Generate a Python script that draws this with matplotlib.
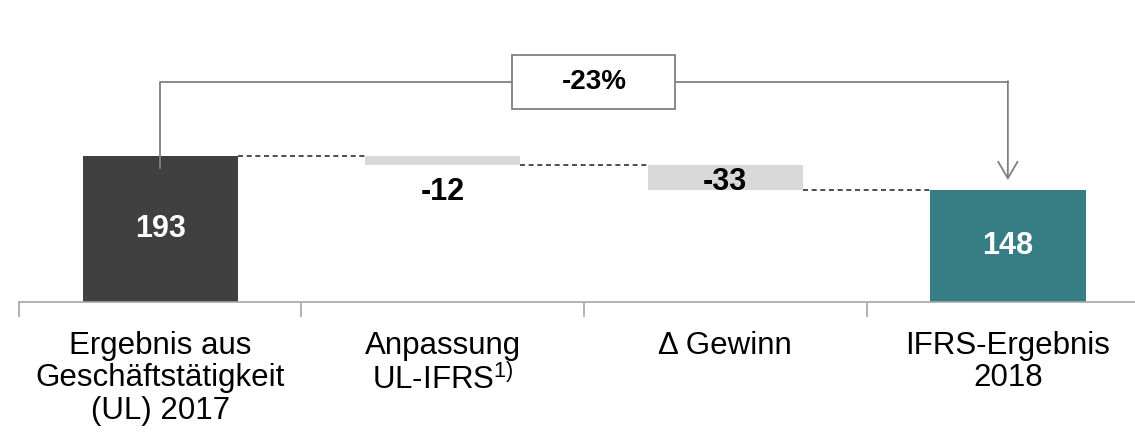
import matplotlib
matplotlib.use("Agg")
import matplotlib.pyplot as plt
from matplotlib.patches import Rectangle

plt.rcParams['font.family'] = ['Liberation Sans', 'DejaVu Sans']
plt.rcParams['mathtext.fontset'] = 'custom'
plt.rcParams['mathtext.rm'] = 'Liberation Sans'

# Waterfall data
categories = ["Ergebnis aus\nGeschäftstätigkeit\n(UL) 2017",
              "Anpassung\nUL-IFRS$^{\\mathrm{1)}}$",
              "Δ Gewinn",
              "IFRS-Ergebnis\n2018"]
values = [193, -12, -33, 148]
kinds = ["total", "delta", "delta", "total"]
value_labels = ["193", "-12", "-33", "148"]
change_label = "-23%"

colors = {"start": "#404040", "delta": "#D9D9D9", "end": "#367E83"}
grey = "#808080"

fig = plt.figure(figsize=(11.35, 4.37), dpi=100)
ax = fig.add_axes([0.0167, 0.309, 0.9833, 0.691])
ax.set_xlim(-0.5, 3.45)
ax.set_ylim(0, 399)

width = 0.55
running = 0
tops = []
bottoms = []
for i, (v, k) in enumerate(zip(values, kinds)):
    if k == "total":
        bottom, top = 0, v
        running = v
        col = colors["start"] if i == 0 else colors["end"]
    else:
        top = running
        running = running + v
        bottom = running
        col = colors["delta"]
    ax.bar(i, top - bottom, bottom=bottom, width=width, color=col, zorder=2)
    tops.append(top)
    bottoms.append(bottom)

# dashed connectors between bars
levels = [values[0], values[0] + values[1], values[0] + values[1] + values[2]]
for i, lv in enumerate(levels):
    ax.plot([i + width / 2, i + 1 - width / 2], [lv, lv], ls=(0, (3, 2.2)),
            color="#303030", lw=1.2, zorder=1)

# value labels
ax.text(0, values[0] / 2, value_labels[0], ha="center", va="center",
        color="white", fontsize=22, fontweight="bold")
ax.text(3, values[3] / 2, value_labels[3], ha="center", va="center",
        color="white", fontsize=22, fontweight="bold")
ax.text(1, bottoms[1] - 36, value_labels[1], ha="center", va="center",
        color="black", fontsize=22, fontweight="bold")
ax.text(2, bottoms[2] + 10, value_labels[2], ha="center", va="center",
        color="black", fontsize=22, fontweight="bold", zorder=3)

# bracket with arrow
yb = 291
ax.plot([0, 0, 3], [177, yb, yb], color=grey, lw=1.3, zorder=3)
ax.annotate("", xy=(3, tops[3] + 13), xytext=(3, yb + 0.8),
            arrowprops=dict(arrowstyle="->,head_length=1.2,head_width=0.7",
                            color=grey, lw=1.3, shrinkA=0, shrinkB=0))
bx, bw, bh = 1.535, 0.577, 71
ax.add_patch(Rectangle((bx - bw / 2, yb - bh / 2), bw, bh, facecolor="white",
                       edgecolor=grey, lw=1.3, zorder=4))
ax.text(bx, yb, change_label, ha="center", va="center", fontsize=20,
        fontweight="bold", zorder=5)

# axis line and category separators
for s in ["top", "right", "left"]:
    ax.spines[s].set_visible(False)
ax.spines["bottom"].set_color("#A6A6A6")
ax.spines["bottom"].set_linewidth(1.2)
ax.set_yticks([])
ax.set_xticks([-0.5, 0.5, 1.5, 2.5])
ax.set_xticklabels([])
ax.tick_params(axis="x", length=11, width=1.2, color="#A6A6A6", direction="out")

for i, lab in enumerate(categories):
    ax.text(i, -38, lab, ha="center", va="top", fontsize=22.5,
            linespacing=1.12, clip_on=False)

fig.savefig("out.png", dpi=100)
